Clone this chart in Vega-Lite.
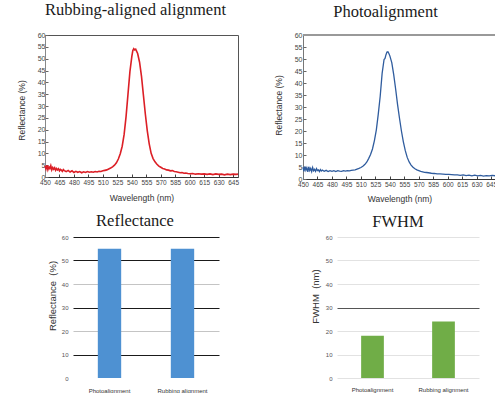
{
  "$schema": "https://vega.github.io/schema/vega-lite/v6.json",
  "background": "white",
  "padding": {"left": 16, "top": 1, "right": -4, "bottom": 0},
  "bounds": "full",
  "spacing": 10,
  "config": {
    "axis": {"labelFont": "Liberation Sans", "titleFont": "Liberation Sans", "titleFontWeight": "normal", "labelOverlap": false, "labelFlush": false},
    "title": {"font": "Liberation Serif", "fontSize": 16.5, "fontWeight": "normal", "color": "#1a1a1a", "frame": "group", "anchor": "middle", "baseline": "alphabetic"}
  },
  "datasets": {
    "rubbing": [
      {"wavelength": 450, "reflectance": 4.6}, {"wavelength": 451, "reflectance": 3.4}, {"wavelength": 452, "reflectance": 5.0}, {"wavelength": 453, "reflectance": 3.1},
      {"wavelength": 454, "reflectance": 4.3}, {"wavelength": 455, "reflectance": 3.6}, {"wavelength": 456, "reflectance": 4.8}, {"wavelength": 457, "reflectance": 3.0},
      {"wavelength": 458, "reflectance": 4.0}, {"wavelength": 459, "reflectance": 3.3}, {"wavelength": 460, "reflectance": 3.9}, {"wavelength": 461, "reflectance": 2.8},
      {"wavelength": 462, "reflectance": 3.6}, {"wavelength": 463, "reflectance": 3.0}, {"wavelength": 464, "reflectance": 3.5}, {"wavelength": 465, "reflectance": 2.6},
      {"wavelength": 466, "reflectance": 3.2}, {"wavelength": 467, "reflectance": 2.9}, {"wavelength": 468, "reflectance": 2.4}, {"wavelength": 469, "reflectance": 3.1},
      {"wavelength": 470, "reflectance": 2.7}, {"wavelength": 472, "reflectance": 2.3}, {"wavelength": 474, "reflectance": 2.8}, {"wavelength": 476, "reflectance": 2.1},
      {"wavelength": 478, "reflectance": 2.6}, {"wavelength": 480, "reflectance": 1.9}, {"wavelength": 482, "reflectance": 2.4}, {"wavelength": 484, "reflectance": 2.0},
      {"wavelength": 486, "reflectance": 2.3}, {"wavelength": 488, "reflectance": 1.8}, {"wavelength": 490, "reflectance": 2.2}, {"wavelength": 492, "reflectance": 1.9},
      {"wavelength": 494, "reflectance": 2.3}, {"wavelength": 496, "reflectance": 2.0}, {"wavelength": 498, "reflectance": 2.2}, {"wavelength": 500, "reflectance": 2.0},
      {"wavelength": 502, "reflectance": 2.3}, {"wavelength": 504, "reflectance": 2.1}, {"wavelength": 506, "reflectance": 2.4}, {"wavelength": 508, "reflectance": 2.3},
      {"wavelength": 510, "reflectance": 2.6}, {"wavelength": 512, "reflectance": 2.8}, {"wavelength": 514, "reflectance": 3.0}, {"wavelength": 516, "reflectance": 3.4},
      {"wavelength": 518, "reflectance": 3.8}, {"wavelength": 520, "reflectance": 4.3}, {"wavelength": 522, "reflectance": 5.0}, {"wavelength": 524, "reflectance": 6.0},
      {"wavelength": 526, "reflectance": 7.6}, {"wavelength": 528, "reflectance": 9.8}, {"wavelength": 530, "reflectance": 13.0}, {"wavelength": 532, "reflectance": 18.0},
      {"wavelength": 534, "reflectance": 25.5}, {"wavelength": 536, "reflectance": 35.0}, {"wavelength": 538, "reflectance": 44.5}, {"wavelength": 540, "reflectance": 51.0},
      {"wavelength": 541, "reflectance": 53.4}, {"wavelength": 542, "reflectance": 54.2}, {"wavelength": 543, "reflectance": 53.7}, {"wavelength": 544, "reflectance": 54.0},
      {"wavelength": 545, "reflectance": 53.1}, {"wavelength": 546, "reflectance": 52.2}, {"wavelength": 548, "reflectance": 48.5}, {"wavelength": 550, "reflectance": 42.5},
      {"wavelength": 552, "reflectance": 34.5}, {"wavelength": 554, "reflectance": 26.5}, {"wavelength": 556, "reflectance": 19.5}, {"wavelength": 558, "reflectance": 14.0},
      {"wavelength": 560, "reflectance": 10.0}, {"wavelength": 562, "reflectance": 7.8}, {"wavelength": 564, "reflectance": 6.4}, {"wavelength": 566, "reflectance": 5.4},
      {"wavelength": 568, "reflectance": 4.6}, {"wavelength": 570, "reflectance": 4.1}, {"wavelength": 572, "reflectance": 3.6}, {"wavelength": 574, "reflectance": 3.4},
      {"wavelength": 576, "reflectance": 3.0}, {"wavelength": 578, "reflectance": 2.9}, {"wavelength": 580, "reflectance": 2.6}, {"wavelength": 582, "reflectance": 2.7},
      {"wavelength": 584, "reflectance": 2.3}, {"wavelength": 586, "reflectance": 2.2}, {"wavelength": 588, "reflectance": 2.0}, {"wavelength": 590, "reflectance": 1.8},
      {"wavelength": 592, "reflectance": 1.9}, {"wavelength": 594, "reflectance": 1.6}, {"wavelength": 596, "reflectance": 1.7}, {"wavelength": 598, "reflectance": 1.5},
      {"wavelength": 600, "reflectance": 1.4}, {"wavelength": 603, "reflectance": 1.5}, {"wavelength": 606, "reflectance": 1.2}, {"wavelength": 609, "reflectance": 1.4},
      {"wavelength": 612, "reflectance": 1.2}, {"wavelength": 615, "reflectance": 1.3}, {"wavelength": 618, "reflectance": 1.1}, {"wavelength": 621, "reflectance": 1.3},
      {"wavelength": 624, "reflectance": 1.0}, {"wavelength": 627, "reflectance": 1.3}, {"wavelength": 630, "reflectance": 1.1}, {"wavelength": 633, "reflectance": 1.2},
      {"wavelength": 636, "reflectance": 0.9}, {"wavelength": 639, "reflectance": 1.2}, {"wavelength": 642, "reflectance": 1.0}, {"wavelength": 645, "reflectance": 1.2},
      {"wavelength": 648, "reflectance": 1.1}, {"wavelength": 650, "reflectance": 1.2}
    ],
    "photo": [
      {"wavelength": 450, "reflectance": 4.9}, {"wavelength": 451, "reflectance": 3.2}, {"wavelength": 452, "reflectance": 5.3}, {"wavelength": 453, "reflectance": 3.6},
      {"wavelength": 454, "reflectance": 4.7}, {"wavelength": 455, "reflectance": 3.0}, {"wavelength": 456, "reflectance": 5.1}, {"wavelength": 457, "reflectance": 3.5},
      {"wavelength": 458, "reflectance": 4.4}, {"wavelength": 459, "reflectance": 3.1}, {"wavelength": 460, "reflectance": 4.8}, {"wavelength": 461, "reflectance": 3.4},
      {"wavelength": 462, "reflectance": 4.0}, {"wavelength": 463, "reflectance": 3.2}, {"wavelength": 464, "reflectance": 4.3}, {"wavelength": 465, "reflectance": 3.5},
      {"wavelength": 466, "reflectance": 3.8}, {"wavelength": 467, "reflectance": 3.1}, {"wavelength": 468, "reflectance": 3.9}, {"wavelength": 469, "reflectance": 3.3},
      {"wavelength": 470, "reflectance": 3.7}, {"wavelength": 472, "reflectance": 3.2}, {"wavelength": 474, "reflectance": 3.6}, {"wavelength": 476, "reflectance": 3.1},
      {"wavelength": 478, "reflectance": 3.5}, {"wavelength": 480, "reflectance": 3.2}, {"wavelength": 482, "reflectance": 3.5}, {"wavelength": 484, "reflectance": 3.1},
      {"wavelength": 486, "reflectance": 3.5}, {"wavelength": 488, "reflectance": 3.3}, {"wavelength": 490, "reflectance": 3.2}, {"wavelength": 492, "reflectance": 3.5},
      {"wavelength": 494, "reflectance": 3.3}, {"wavelength": 496, "reflectance": 3.5}, {"wavelength": 498, "reflectance": 3.4}, {"wavelength": 500, "reflectance": 3.6},
      {"wavelength": 502, "reflectance": 3.7}, {"wavelength": 504, "reflectance": 3.8}, {"wavelength": 506, "reflectance": 4.1}, {"wavelength": 508, "reflectance": 4.4},
      {"wavelength": 510, "reflectance": 4.8}, {"wavelength": 512, "reflectance": 5.3}, {"wavelength": 514, "reflectance": 6.0}, {"wavelength": 516, "reflectance": 7.0},
      {"wavelength": 518, "reflectance": 8.5}, {"wavelength": 520, "reflectance": 10.2}, {"wavelength": 522, "reflectance": 12.5}, {"wavelength": 524, "reflectance": 16.0},
      {"wavelength": 526, "reflectance": 20.5}, {"wavelength": 528, "reflectance": 27.0}, {"wavelength": 530, "reflectance": 34.5}, {"wavelength": 532, "reflectance": 44.0},
      {"wavelength": 534, "reflectance": 49.8}, {"wavelength": 535, "reflectance": 50.2}, {"wavelength": 536, "reflectance": 51.8}, {"wavelength": 537, "reflectance": 52.9},
      {"wavelength": 538, "reflectance": 53.0}, {"wavelength": 539, "reflectance": 52.3}, {"wavelength": 540, "reflectance": 51.3}, {"wavelength": 542, "reflectance": 48.5},
      {"wavelength": 544, "reflectance": 43.5}, {"wavelength": 546, "reflectance": 37.5}, {"wavelength": 548, "reflectance": 31.0}, {"wavelength": 550, "reflectance": 25.3},
      {"wavelength": 552, "reflectance": 20.0}, {"wavelength": 554, "reflectance": 15.5}, {"wavelength": 556, "reflectance": 11.8}, {"wavelength": 558, "reflectance": 9.0},
      {"wavelength": 560, "reflectance": 7.1}, {"wavelength": 562, "reflectance": 5.8}, {"wavelength": 564, "reflectance": 4.9}, {"wavelength": 566, "reflectance": 4.3},
      {"wavelength": 568, "reflectance": 3.8}, {"wavelength": 570, "reflectance": 3.5}, {"wavelength": 572, "reflectance": 3.2}, {"wavelength": 574, "reflectance": 3.0},
      {"wavelength": 576, "reflectance": 2.8}, {"wavelength": 578, "reflectance": 2.7}, {"wavelength": 580, "reflectance": 2.6}, {"wavelength": 583, "reflectance": 2.4},
      {"wavelength": 586, "reflectance": 2.3}, {"wavelength": 589, "reflectance": 2.1}, {"wavelength": 592, "reflectance": 2.1}, {"wavelength": 595, "reflectance": 2.0},
      {"wavelength": 598, "reflectance": 1.9}, {"wavelength": 601, "reflectance": 1.9}, {"wavelength": 604, "reflectance": 1.8}, {"wavelength": 607, "reflectance": 1.7},
      {"wavelength": 610, "reflectance": 1.7}, {"wavelength": 613, "reflectance": 1.5}, {"wavelength": 616, "reflectance": 1.7}, {"wavelength": 619, "reflectance": 1.4},
      {"wavelength": 622, "reflectance": 1.6}, {"wavelength": 625, "reflectance": 1.3}, {"wavelength": 628, "reflectance": 1.6}, {"wavelength": 631, "reflectance": 1.3},
      {"wavelength": 634, "reflectance": 1.5}, {"wavelength": 637, "reflectance": 1.2}, {"wavelength": 640, "reflectance": 1.4}, {"wavelength": 643, "reflectance": 1.3},
      {"wavelength": 646, "reflectance": 1.5}, {"wavelength": 650, "reflectance": 1.3}
    ],
    "summary": [
      {"sample": "Photoalignment", "reflectance": 55, "fwhm": 18},
      {"sample": "Rubbing alignment", "reflectance": 55, "fwhm": 24}
    ]
  },
  "vconcat": [
    {
      "bounds": "flush",
      "spacing": 65,
      "hconcat": [
        {
          "width": 193,
          "height": 142,
          "title": {"text": "Rubbing-aligned alignment", "dx": -6, "offset": 12.3},
          "view": {"stroke": "#555"},
          "data": {"name": "rubbing"},
          "mark": {"type": "line", "color": "#dc1f26", "strokeWidth": 1.6},
          "encoding": {
            "x": {
              "field": "wavelength", "type": "quantitative",
              "scale": {"domain": [450, 650], "nice": false, "zero": false},
              "axis": {
                "values": [450, 465, 480, 495, 510, 525, 540, 555, 570, 585, 600, 615, 630, 645],
                "grid": false, "labelFontSize": 6.5, "labelColor": "#444", "labelPadding": 5,
                "tickSize": -3, "tickColor": "#444", "domainColor": "#333",
                "title": "Wavelength (nm)", "titleFontSize": 8.5, "titleColor": "#333",
                "titleY": 20, "titleBaseline": "middle"
              }
            },
            "y": {
              "field": "reflectance", "type": "quantitative",
              "scale": {"domain": [0, 60], "nice": false},
              "axis": {
                "values": [0, 5, 10, 15, 20, 25, 30, 35, 40, 45, 50, 55, 60],
                "grid": false, "labelFontSize": 7, "labelColor": "#444", "labelPadding": 3,
                "tickSize": -3, "tickColor": "#666", "domainColor": "#888",
                "title": "Reflectance (%)", "titleFontSize": 8.5, "titleColor": "#333",
                "titleX": -24, "titleY": 75, "titleAngle": -90, "titleBaseline": "middle"
              }
            }
          }
        },
        {
          "width": 193,
          "height": 144,
          "title": {"text": "Photoalignment", "dx": -14, "offset": 11},
          "view": {"stroke": null},
          "layer": [
            {
              "data": {"name": "photo"},
              "mark": {"type": "line", "color": "#2f5c9e", "strokeWidth": 1.3},
              "encoding": {
                "x": {
                  "field": "wavelength", "type": "quantitative",
                  "scale": {"domain": [450, 650], "nice": false, "zero": false},
                  "axis": {
                    "values": [450, 465, 480, 495, 510, 525, 540, 555, 570, 585, 600, 615, 630, 645],
                    "grid": false, "labelFontSize": 6.5, "labelColor": "#444", "labelPadding": 5,
                    "tickSize": -3, "tickColor": "#444", "domainColor": "#333",
                    "title": "Wavelength (nm)", "titleFontSize": 8.5, "titleColor": "#333",
                    "titleY": 19.5, "titleBaseline": "middle"
                  }
                },
                "y": {
                  "field": "reflectance", "type": "quantitative",
                  "scale": {"domain": [0, 60], "nice": false},
                  "axis": {
                    "values": [0, 5, 10, 15, 20, 25, 30, 35, 40, 45, 50, 55, 60],
                    "grid": false, "labelFontSize": 7, "labelColor": "#444", "labelPadding": 4,
                    "tickSize": -3, "tickColor": "#666", "domainColor": "#777",
                    "title": "Reflectance (%)", "titleFontSize": 8.5, "titleColor": "#333",
                    "titleX": -24.5, "titleY": 70, "titleAngle": -90, "titleBaseline": "middle"
                  }
                }
              }
            },
            {
              "data": {"name": "photo"},
              "mark": {"type": "rule", "color": "#999", "strokeWidth": 2},
              "encoding": {
                "y": {
                  "datum": 60, "type": "quantitative",
                  "scale": {"domain": [0, 60], "nice": false},
                  "axis": {
                    "values": [0, 5, 10, 15, 20, 25, 30, 35, 40, 45, 50, 55, 60],
                    "grid": false, "labelFontSize": 7, "labelColor": "#444", "labelPadding": 4,
                    "tickSize": -3, "tickColor": "#666", "domainColor": "#777",
                    "title": "Reflectance (%)", "titleFontSize": 8.5, "titleColor": "#333",
                    "titleX": -24.5, "titleY": 70, "titleAngle": -90, "titleBaseline": "middle"
                  }
                }
              }
            }
          ]
        }
      ]
    },
    {
      "bounds": "flush",
      "spacing": 0,
      "hconcat": [
        {
          "width": 28,
          "height": 10,
          "view": {"stroke": null},
          "data": {"values": []},
          "mark": "point",
          "encoding": {}
        },
        {
          "bounds": "flush",
          "spacing": 118,
          "hconcat": [
            {
              "width": 146,
              "height": 141,
              "title": {"text": "Reflectance", "dx": -11, "offset": 4.5},
              "view": {"stroke": null},
              "data": {"name": "summary"},
              "mark": {"type": "bar", "color": "#4e91d2", "width": {"band": 0.32}},
              "encoding": {
                "x": {
                  "field": "sample", "type": "nominal", "sort": null,
                  "scale": {"paddingInner": 0, "paddingOuter": 0},
                  "axis": {"title": null, "labelAngle": 0, "domain": false, "ticks": false, "labelFontSize": 6, "labelColor": "#333", "labelPadding": 9}
                },
                "y": {
                  "field": "reflectance", "type": "quantitative",
                  "scale": {"domain": [0, 60], "nice": false},
                  "axis": {
                    "values": [0, 10, 20, 30, 40, 50, 60],
                    "domain": false, "ticks": false, "labelFontSize": 6, "labelColor": "#555", "labelPadding": 5,
                    "grid": true, "gridWidth": 1.2,
                    "gridColor": {"condition": {"test": "datum.value === 20 || datum.value === 40", "value": "#c4c4c4"}, "value": "#1a1a1a"},
                    "gridOpacity": {"condition": {"test": "datum.value === 0", "value": 0}, "value": 1},
                    "title": "Reflectance\u00a0\u00a0(%)", "titleFontSize": 9.5, "titleColor": "#333",
                    "titleX": -21, "titleY": 58.5, "titleAngle": -90, "titleBaseline": "middle"
                  }
                }
              }
            },
            {
              "width": 142,
              "height": 141,
              "title": {"text": "FWHM", "dx": -10, "offset": 3.5},
              "view": {"stroke": null},
              "data": {"name": "summary"},
              "mark": {"type": "bar", "color": "#70ad47", "width": {"band": 0.32}},
              "encoding": {
                "x": {
                  "field": "sample", "type": "nominal", "sort": null,
                  "scale": {"paddingInner": 0, "paddingOuter": 0},
                  "axis": {"title": null, "labelAngle": 0, "domain": false, "ticks": false, "labelFontSize": 6, "labelColor": "#333", "labelPadding": 8}
                },
                "y": {
                  "field": "fwhm", "type": "quantitative",
                  "scale": {"domain": [0, 60], "nice": false},
                  "axis": {
                    "values": [0, 10, 20, 30, 40, 50, 60],
                    "domain": false, "ticks": false, "labelFontSize": 6, "labelColor": "#555", "labelPadding": 5,
                    "grid": true, "gridWidth": 1,
                    "gridColor": {"condition": {"test": "datum.value === 30", "value": "#555"}, "value": "#e2e2e2"},
                    "title": "FWHM\u00a0\u00a0(nm)", "titleFontSize": 9.5, "titleColor": "#333",
                    "titleX": -22, "titleY": 59, "titleAngle": -90, "titleBaseline": "middle"
                  }
                }
              }
            }
          ]
        }
      ]
    }
  ]
}
